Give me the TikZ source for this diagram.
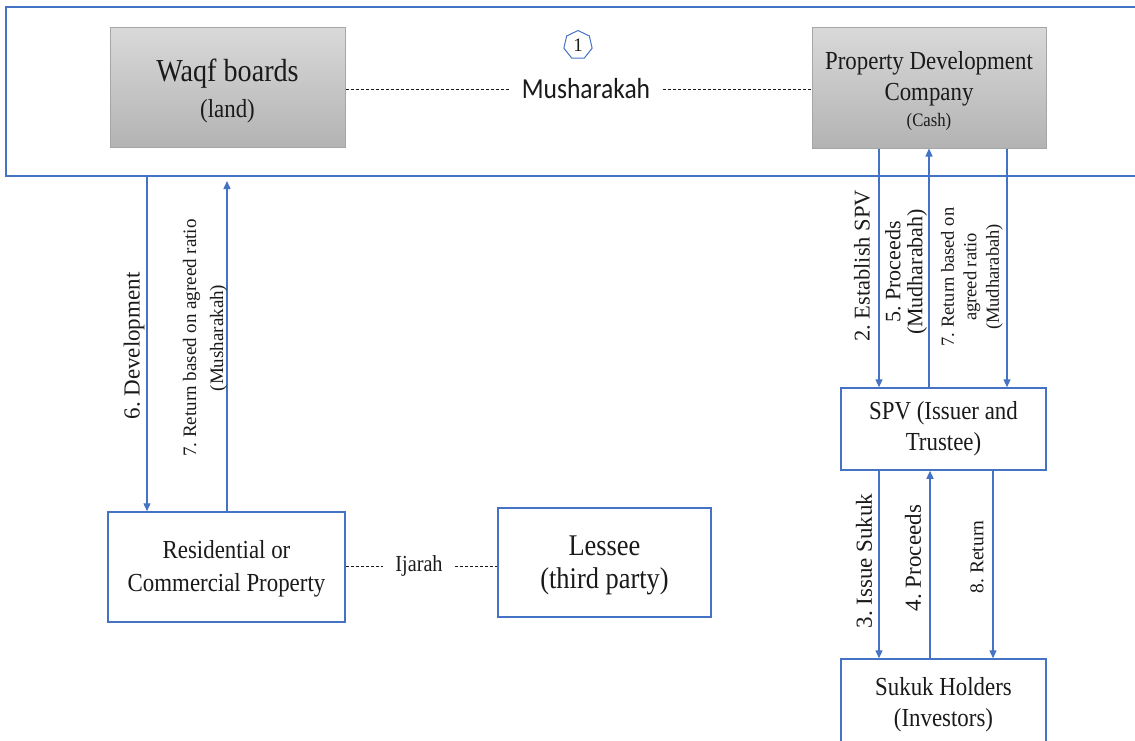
\documentclass[tikz,border=0pt]{standalone}
\usepackage{fontspec}
\setmainfont{Liberation Serif}
\newfontfamily\cond{Liberation Serif}[FakeStretch=0.88]
\newfontfamily\condsans{Carlito}[FakeStretch=0.88]
\usetikzlibrary{arrows.meta,shapes.geometric}
\definecolor{bl}{HTML}{4472C4}
\definecolor{gborder}{HTML}{A6A6A6}
\definecolor{gtop}{HTML}{D9D9D9}
\definecolor{gbot}{HTML}{B3B3B3}
\definecolor{txt}{HTML}{1A1A1A}
\newcommand{\fs}[2]{\fontsize{#1}{#2}\selectfont}
\frenchspacing
\begin{document}
\begin{tikzpicture}[x=1pt,y=-1pt,
  graybox/.style={draw=gborder, line width=1pt, top color=gtop, bottom color=gbot, align=center, inner sep=0pt, text=txt},
  whitebox/.style={draw=bl, line width=1.5pt, fill=white, align=center, inner sep=0pt, text=txt},
  flow/.style={draw=bl, line width=1.3pt, -{Triangle[length=8pt,width=7pt]}},
  dashline/.style={draw=txt, line width=0.9pt, dash pattern=on 3pt off 2pt},
  vlab/.style={rotate=90, align=center, inner sep=0pt, text=txt},
]
\useasboundingbox (0,0) rectangle (1135,740);
\clip (0,0) rectangle (1135,740);

% outer frame
\draw[bl, line width=1.5pt] (1150,7) -- (6,7) -- (6,176) -- (1150,176);
\coordinate (fb1) at (147,176);
\coordinate (fb2) at (227,181);

% top boxes
\node[graybox, minimum width=235, minimum height=120, font=\cond\fs{32}{36}] (waqf) at (227.5,87)
  {\rule{0pt}{31pt}Waqf boards\\\fs{26}{36}(land)};
\node[graybox, minimum width=234, minimum height=121, font=\cond\fs{26}{31}] (pdc) at (929,87.5)
  {\rule{0pt}{25pt}Property Development\\Company\\[-5pt]\fs{19}{26}(Cash)};

\node[text=txt, inner xsep=13pt, inner ysep=0pt, font=\condsans\fs{29}{32}] (musha) at (586,89) {Musharakah};
\node[regular polygon, regular polygon sides=7, draw=bl, line width=1pt, minimum size=29, inner sep=0pt, text=txt, font=\fs{19}{19}] (one) at (578,45) {1};

\draw[dashline] (waqf.east |- musha.west) -- (musha.west);
\draw[dashline] (musha.east) -- (musha.east -| pdc.west);

% right column
\node[whitebox, minimum width=205, minimum height=82, font=\cond\fs{26}{31}] (spv) at (943.5,429)
  {SPV (Issuer and\\Trustee)};
\node[whitebox, minimum width=205, minimum height=92, font=\cond\fs{26}{31}] (sukuk) at (943.5,705)
  {Sukuk Holders\\(Investors)};

% bottom left
\node[whitebox, minimum width=237, minimum height=110, font=\cond\fs{26}{33}] (res) at (226.5,567)
  {\rule{0pt}{21pt}Residential or\\Commercial Property};
\node[whitebox, minimum width=213, minimum height=109, font=\cond\fs{30}{33}] (lessee) at (604.5,562.5)
  {\rule{0pt}{25pt}Lessee\\(third party)};
\node[text=txt, inner xsep=12pt, inner ysep=0pt, font=\cond\fs{23}{26}] (ijarah) at (419,566) {Ijarah};
\draw[dashline] (res.east |- ijarah.west) -- (ijarah.west);
\draw[dashline] (ijarah.east) -- (ijarah.east -| lessee.west);

% left arrows
\draw[flow] (fb1) -- (fb1 |- res.north);
\draw[flow] (res.north -| fb2) -- (fb2);
\node[vlab, font=\fs{23}{26}] (ldev) at (134,346) {6. Development};
\node[vlab, font=\fs{19}{27}] (lret7a) at (205,338) {7. Return based on agreed ratio\\(Musharakah)};

% PDC <-> SPV arrows
\draw[flow] ([xshift=-50pt]pdc.south) -- ([xshift=-50pt]pdc.south |- spv.north);
\draw[flow] (spv.north -| pdc.south) -- (pdc.south);
\draw[flow] ([xshift=78pt]pdc.south) -- ([xshift=78pt]pdc.south |- spv.north);
\node[vlab, font=\fs{22.5}{24}] (lest) at (862,266) {2. Establish SPV};
\node[vlab, font=\fs{22}{22}] (lproc5) at (906,272) {5. Proceeds\\(Mudharabah)};
\node[vlab, font=\fs{18.5}{22.5}] (lret7b) at (972,277) {7. Return based on\\agreed ratio\\(Mudharabah)};

% SPV <-> Sukuk arrows
\draw[flow] ([xshift=-64.5pt]spv.south) -- ([xshift=-64.5pt]spv.south |- sukuk.north);
\draw[flow] ([xshift=-13.5pt]spv.south |- sukuk.north) -- ([xshift=-13.5pt]spv.south);
\draw[flow] ([xshift=49.5pt]spv.south) -- ([xshift=49.5pt]spv.south |- sukuk.north);
\node[vlab, font=\fs{23}{26}] (liss) at (864,561) {3. Issue Sukuk};
\node[vlab, font=\fs{23}{26}] (lproc4) at (913,558) {4. Proceeds};
\node[vlab, font=\fs{19.5}{22}] (lret8) at (977,557) {8. Return};
\end{tikzpicture}
\end{document}
